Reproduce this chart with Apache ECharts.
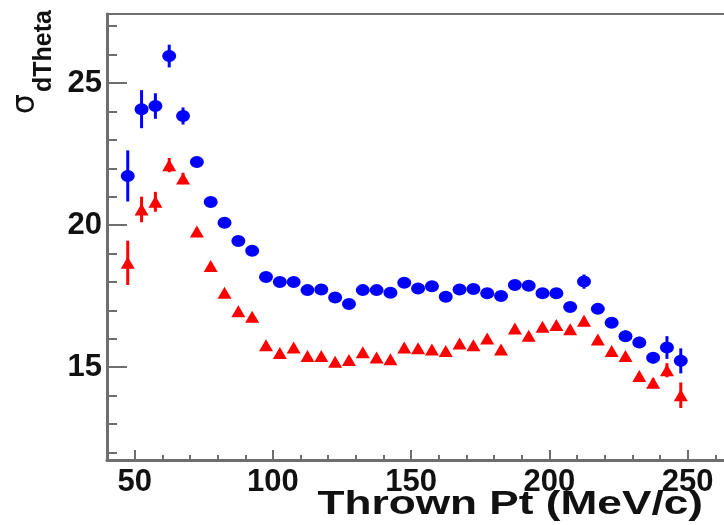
<!DOCTYPE html>
<html>
<head>
<meta charset="UTF-8">
<title>sigma dTheta vs Thrown Pt</title>
<script src="https://cdn.jsdelivr.net/npm/echarts@6/dist/echarts.min.js"></script>
<style>
  html, body { margin: 0; padding: 0; background: #fff; }
  #chart { width: 724px; height: 525px; }
</style>
</head>
<body>
<div id="chart"></div>
<script>
// bin centres (MeV/c)
const ptBins = [47.5, 52.5, 57.5, 62.5, 67.5, 72.5, 77.5, 82.5, 87.5, 92.5,
  97.5, 102.5, 107.5, 112.5, 117.5, 122.5, 127.5, 132.5, 137.5, 142.5,
  147.5, 152.5, 157.5, 162.5, 167.5, 172.5, 177.5, 182.5, 187.5, 192.5,
  197.5, 202.5, 207.5, 212.5, 217.5, 222.5, 227.5, 232.5, 237.5, 242.5, 247.5];

// blue circles
const blueVals = [21.73, 24.08, 24.19, 25.95, 23.84, 22.22, 20.81, 20.08, 19.44, 19.10,
  18.17, 18.0, 18.0, 17.71, 17.73, 17.45, 17.22, 17.71, 17.71, 17.62,
  17.97, 17.77, 17.85, 17.48, 17.73, 17.75, 17.6, 17.5, 17.89, 17.86,
  17.6, 17.6, 17.12, 18.01, 17.05, 16.56, 16.09, 15.87, 15.33, 15.69, 15.22];
const blueErr = [0.9, 0.67, 0.45, 0.4, 0.3, 0.15, 0.12, 0.12, 0.12, 0.12,
  0.12, 0.12, 0.12, 0.12, 0.12, 0.12, 0.12, 0.12, 0.12, 0.12,
  0.12, 0.12, 0.12, 0.12, 0.12, 0.12, 0.12, 0.12, 0.12, 0.12,
  0.12, 0.12, 0.15, 0.25, 0.15, 0.15, 0.2, 0.2, 0.2, 0.4, 0.44];

// red triangles
const redVals = [18.67, 20.55, 20.82, 22.11, 21.64, 19.77, 18.56, 17.62, 16.97, 16.77,
  15.77, 15.5, 15.69, 15.39, 15.39, 15.19, 15.25, 15.52, 15.34, 15.28,
  15.69, 15.66, 15.62, 15.57, 15.83, 15.77, 16.01, 15.62, 16.36, 16.1,
  16.42, 16.48, 16.33, 16.63, 15.97, 15.57, 15.39, 14.69, 14.45, 14.89, 14.01];
const redErr = [0.78, 0.45, 0.35, 0.25, 0.2, 0.12, 0.1, 0.1, 0.1, 0.1,
  0.1, 0.1, 0.1, 0.1, 0.1, 0.1, 0.1, 0.1, 0.1, 0.1,
  0.1, 0.1, 0.1, 0.1, 0.1, 0.1, 0.1, 0.1, 0.1, 0.1,
  0.1, 0.1, 0.1, 0.12, 0.1, 0.1, 0.12, 0.12, 0.15, 0.25, 0.45];

const xMajor = [50, 100, 150, 200, 250];
const xMinor = [60, 70, 80, 90, 110, 120, 130, 140, 160, 170, 180, 190, 210, 220, 230, 240, 260];
const yMajor = [15, 20, 25];
const yMinor = [12, 13, 14, 16, 17, 18, 19, 21, 22, 23, 24, 26, 27];

const X_MIN = 40, X_MAX = 270, Y_MIN = 11.73, Y_MAX = 27.43;
const axisGray = '#6e6e6e';
const labelFont = { fontFamily: 'Liberation Sans, Arial, sans-serif', fontWeight: 'bold', fontSize: 31, color: '#111' };

const chart = echarts.init(document.getElementById('chart'));

function pts(vals) { return ptBins.map((x, i) => [x, vals[i]]); }
function errs(vals, e) { return ptBins.map((x, i) => [x, vals[i], e[i]]); }

function errRender(color) {
  return function (params, api) {
    const x = api.value(0), y = api.value(1), e = api.value(2);
    const lo = api.coord([x, y - e]);
    const hi = api.coord([x, y + e]);
    return {
      type: 'line',
      shape: { x1: lo[0], y1: lo[1], x2: hi[0], y2: hi[1] },
      style: { stroke: color, lineWidth: 3 }
    };
  };
}

function baseX(ticks, len, showLine, showLabel) {
  return {
    type: 'value', min: X_MIN, max: X_MAX, position: 'bottom',
    axisLine: { show: showLine, lineStyle: { color: axisGray, width: 3 } },
    axisTick: { show: true, inside: true, length: len, customValues: ticks, lineStyle: { color: axisGray, width: 2 } },
    axisLabel: Object.assign({ show: showLabel, customValues: ticks, margin: 7 }, labelFont),
    splitLine: { show: false }
  };
}
function baseY(ticks, len, showLine, showLabel) {
  return {
    type: 'value', min: Y_MIN, max: Y_MAX, position: 'left',
    axisLine: { show: showLine, lineStyle: { color: axisGray, width: 3 } },
    axisTick: { show: true, inside: true, length: len, customValues: ticks, lineStyle: { color: axisGray, width: 2 } },
    axisLabel: Object.assign({ show: showLabel, customValues: ticks, margin: 5 }, labelFont),
    splitLine: { show: false }
  };
}

const option = {
  backgroundColor: '#fff',
  animation: false,
  grid: {
    left: 107, top: 14, width: 636, height: 446,
    outerBoundsMode: 'none', containLabel: false,
    show: true, borderColor: axisGray, borderWidth: 2
  },
  xAxis: [baseX(xMajor, 10, true, true), baseX(xMinor, 5, false, false)],
  yAxis: [baseY(yMajor, 20, true, true), baseY(yMinor, 10, false, false)],
  graphic: [
    {
      type: 'text', x: 703, y: 505, scaleX: 1.3,
      style: {
        text: 'Thrown Pt (MeV/c)', fill: '#111',
        font: 'bold 34px "Liberation Sans", Arial, sans-serif',
        align: 'right', verticalAlign: 'middle', textAlign: 'right', textVerticalAlign: 'middle'
      }
    },
    {
      type: 'text', x: 26, y: 104, rotation: Math.PI / 2,
      style: {
        text: 'σ', fill: '#111',
        font: '32px "DejaVu Sans", sans-serif',
        align: 'center', verticalAlign: 'middle', textAlign: 'center', textVerticalAlign: 'middle'
      }
    },
    {
      type: 'text', x: 44, y: 51, rotation: Math.PI / 2,
      style: {
        text: 'dTheta', fill: '#111',
        font: 'bold 25px "Liberation Sans", Arial, sans-serif',
        align: 'center', verticalAlign: 'middle', textAlign: 'center', textVerticalAlign: 'middle'
      }
    }
  ],
  series: [
    { type: 'custom', xAxisIndex: 0, yAxisIndex: 0, renderItem: errRender('#0000ff'), data: errs(blueVals, blueErr), z: 2 },
    { type: 'custom', xAxisIndex: 0, yAxisIndex: 0, renderItem: errRender('#ff0000'), data: errs(redVals, redErr), z: 2 },
    { name: 'blue', type: 'scatter', symbol: 'circle', symbolSize: [14, 12], itemStyle: { color: '#0000ff', opacity: 1 }, data: pts(blueVals), z: 3 },
    { name: 'red', type: 'scatter', symbol: 'triangle', symbolSize: [14, 12], itemStyle: { color: '#ff0000', opacity: 1 }, data: pts(redVals), z: 3 }
  ]
};

chart.setOption(option);
</script>
</body>
</html>
